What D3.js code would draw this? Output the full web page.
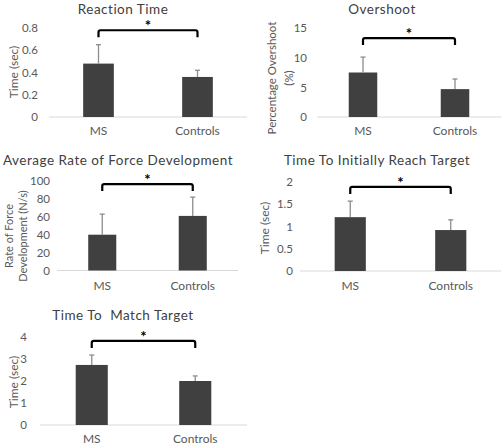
<!DOCTYPE html>
<html>
<head>
<meta charset="utf-8">
<script src="https://cdn.jsdelivr.net/npm/d3@7"></script>
<style>
  html, body { margin: 0; padding: 0; background: #fff; }
  svg { display: block; font-family: Lato, "Open Sans", sans-serif; }
  .title { white-space: pre; }
</style>
</head>
<body>
<svg id="chart" width="502" height="445"></svg>
<script>
// ---- data ----
const categories = ["MS", "Controls"];

const reactionTime = [0.48, 0.36];
const reactionTimeErr = [0.17, 0.06];
const reactionTimeTicks = [0, 0.2, 0.4, 0.6, 0.8];

const overshoot = [7.5, 4.7];
const overshootErr = [2.6, 1.7];
const overshootTicks = [0, 5, 10, 15];

const forceRate = [40, 61];
const forceRateErr = [23, 21];
const forceRateTicks = [0, 20, 40, 60, 80, 100];

const initialReach = [1.21, 0.92];
const initialReachErr = [0.36, 0.23];
const initialReachTicks = [0, 0.5, 1, 1.5, 2];

const matchTarget = [2.73, 2.0];
const matchTargetErr = [0.45, 0.23];
const matchTargetTicks = [0, 1, 2, 3, 4];

const titles = ["Reaction Time", "Overshoot", "Average Rate of Force Development",
                "Time To Initially Reach Target", "Time To  Match Target"];
const yLabels = [["Time (sec)"], ["Percentage Overshoot", "(%)"], ["Rate of Force", "Development (N/s)"],
                 ["Time (sec)"], ["Time (sec)"]];
const bracketLevels = [0.78, 13.3, 96.6, 1.89, 3.82];

// ---- layout (positions only) ----
const panels = [
  { values: reactionTime, errs: reactionTimeErr, ticks: reactionTimeTicks,
    x0: 49, x1: 247, yBase: 117, yTop: 28, tickX: 38, labelX: [13], labelY: 72, labelSize: 12,
    titleX: 123, titleY: 13.5, catY: 135 },
  { values: overshoot, errs: overshootErr, ticks: overshootTicks,
    x0: 317, x1: 501, yBase: 117, yTop: 28, tickX: 307, labelX: [271, 288], labelY: 78, labelSize: 11.5,
    titleX: 382, titleY: 13.5, catY: 135 },
  { values: forceRate, errs: forceRateErr, ticks: forceRateTicks,
    x0: 57, x1: 238, yBase: 270.5, yTop: 181, tickX: 50, labelX: [8, 22], labelY: 236, labelSize: 11,
    titleX: 118, titleY: 165, catY: 290 },
  { values: initialReach, errs: initialReachErr, ticks: initialReachTicks,
    x0: 300, x1: 501, yBase: 271, yTop: 182, tickX: 293, labelX: [264], labelY: 228, labelSize: 12,
    titleX: 377, titleY: 165, catY: 290 },
  { values: matchTarget, errs: matchTargetErr, ticks: matchTargetTicks,
    x0: 40, x1: 247, yBase: 425, yTop: 337, tickX: 27, labelX: [13], labelY: 382, labelSize: 12,
    titleX: 123, titleY: 320, catY: 443 }
];

const svg = d3.select("#chart");

panels.forEach((p, i) => {
  const g = svg.append("g");
  const x = d3.scaleBand().domain(categories).range([p.x0, p.x1]).padding(0);
  const y = d3.scaleLinear().domain([0, d3.max(p.ticks)]).range([p.yBase, p.yTop]);
  const bw = x.bandwidth() * 0.31;

  // title
  g.append("text").attr("class", "title").attr("x", p.titleX).attr("y", p.titleY)
    .attr("text-anchor", "middle").attr("font-size", 13.5).attr("letter-spacing", 0.5)
    .attr("fill", "#404040")
    .text(titles[i]);

  // y axis tick labels
  const ya = d3.axisLeft(y).tickValues(p.ticks).tickSize(0).tickPadding(0)
    .tickFormat(d3.format("~g"));
  const yg = g.append("g").attr("transform", `translate(${p.tickX},0)`).call(ya);
  yg.select(".domain").remove();
  yg.selectAll("text").attr("font-size", 11.5).attr("fill", "#595959")
    .attr("font-family", "Lato, 'Open Sans', sans-serif");

  // baseline
  g.append("line").attr("x1", p.x0).attr("x2", p.x1)
    .attr("y1", y(0)).attr("y2", y(0)).attr("stroke", "#d9d9d9").attr("stroke-width", 1);

  // x category labels
  const xa = d3.axisBottom(x).tickSize(0).tickPadding(0);
  const xg = g.append("g").attr("transform", `translate(0,${p.catY})`).call(xa);
  xg.select(".domain").remove();
  xg.selectAll("text").attr("font-size", 12).attr("fill", "#595959")
    .attr("dy", 0).attr("font-family", "Lato, 'Open Sans', sans-serif");

  // bars
  g.selectAll("rect.bar").data(p.values).join("rect").attr("class", "bar")
    .attr("x", (d, j) => x(categories[j]) + x.bandwidth() / 2 - bw / 2)
    .attr("width", bw)
    .attr("y", d => y(d))
    .attr("height", d => y(0) - y(d))
    .attr("fill", "#404040");

  // error bars (upper only)
  p.values.forEach((v, j) => {
    const cx = x(categories[j]) + x.bandwidth() / 2;
    g.append("line").attr("x1", cx).attr("x2", cx)
      .attr("y1", y(v)).attr("y2", y(v + p.errs[j]))
      .attr("stroke", "#8c8c8c").attr("stroke-width", 1.3);
    g.append("line").attr("x1", cx - 2.5).attr("x2", cx + 2.5)
      .attr("y1", y(v + p.errs[j])).attr("y2", y(v + p.errs[j]))
      .attr("stroke", "#8c8c8c").attr("stroke-width", 1.3);
  });

  // significance bracket
  const bx0 = x(categories[0]) + x.bandwidth() / 2;
  const bx1 = x(categories[1]) + x.bandwidth() / 2;
  const by = y(bracketLevels[i]);
  g.append("path")
    .attr("d", `M${bx0},${by + 7} L${bx0},${by + 2} Q${bx0},${by} ${bx0 + 2},${by} L${bx1 - 2},${by} Q${bx1},${by} ${bx1},${by + 2} L${bx1},${by + 7}`)
    .attr("fill", "none").attr("stroke", "#000").attr("stroke-width", 2.2);
  g.append("text").attr("x", (bx0 + bx1) / 2).attr("y", by + 1)
    .attr("text-anchor", "middle").attr("font-size", 15).attr("font-weight", "bold")
    .attr("fill", "#000").text("*");

  // y label
  const lines = yLabels[i];
  lines.forEach((t, k) => {
    g.append("text")
      .attr("transform", `translate(${p.labelX[k]},${p.labelY}) rotate(-90)`)
      .attr("text-anchor", "middle").attr("dominant-baseline", "central")
      .attr("font-size", p.labelSize).attr("fill", "#595959").text(t);
  });
});
</script>
</body>
</html>
